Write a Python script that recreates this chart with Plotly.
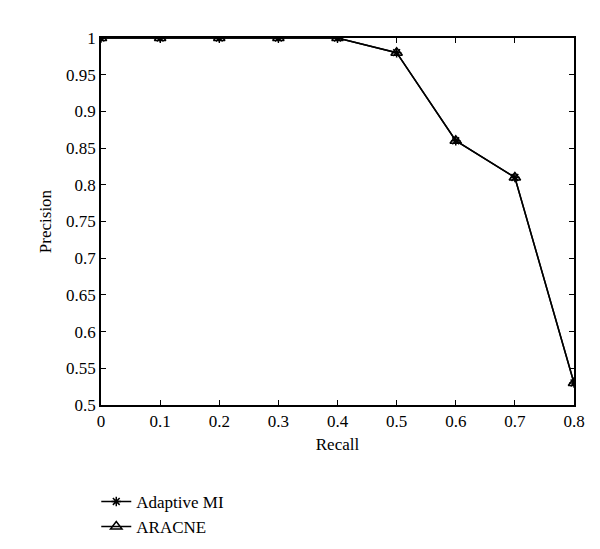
import plotly.graph_objects as go

# Precision-recall values (both methods coincide)
recall = [0, 0.1, 0.2, 0.3, 0.4, 0.5, 0.6, 0.7, 0.8]
precision_adaptive_mi = [1, 1, 1, 1, 1, 0.98, 0.86, 0.81, 0.53]
precision_aracne = [1, 1, 1, 1, 1, 0.98, 0.86, 0.81, 0.53]

x_ticks = [0, 0.1, 0.2, 0.3, 0.4, 0.5, 0.6, 0.7, 0.8]
y_ticks = [0.5, 0.55, 0.6, 0.65, 0.7, 0.75, 0.8, 0.85, 0.9, 0.95, 1]

_FONT = "Liberation Serif, Times New Roman, serif"

fig = go.Figure()
fig.add_trace(
    go.Scatter(
        x=recall,
        y=precision_adaptive_mi,
        mode="lines+markers",
        name="Adaptive MI",
        line=dict(color="black", width=1.5),
        marker=dict(symbol="asterisk-open", size=8, color="black",
                    line=dict(color="black", width=1.5)),
    )
)
fig.add_trace(
    go.Scatter(
        x=recall,
        y=precision_aracne,
        mode="lines+markers",
        name="ARACNE",
        line=dict(color="black", width=1.5),
        marker=dict(symbol="triangle-up-open", size=10, color="black",
                    line=dict(color="black", width=1.5)),
    )
)

axis_common = dict(
    showgrid=False,
    zeroline=False,
    showline=True,
    linecolor="black",
    linewidth=1.5,
    mirror="ticks",
    ticks="inside",
    ticklen=5,
    tickwidth=1.2,
    tickcolor="black",
    tickfont=dict(size=17, color="black", family=_FONT),
    title_font=dict(size=17, color="black", family=_FONT),
)

fig.update_layout(
    width=600,
    height=549,
    paper_bgcolor="white",
    plot_bgcolor="white",
    font=dict(family=_FONT, color="black", size=17),
    margin=dict(l=93, r=34, t=30, b=146),
    showlegend=True,
    legend=dict(
        x=-0.01,
        xanchor="left",
        y=-0.215,
        yanchor="top",
        bgcolor="rgba(0,0,0,0)",
        font=dict(size=17, family=_FONT, color="black"),
        tracegroupgap=0,
        itemwidth=30,
    ),
)
fig.update_xaxes(
    **axis_common,
    range=[0, 0.8],
    tickvals=x_ticks,
    ticktext=[f"{v:g}" for v in x_ticks],
    title_text="Recall",
    title_standoff=8,
)
fig.update_yaxes(
    **axis_common,
    range=[0.5, 1],
    tickvals=y_ticks,
    ticktext=[f"{v:g}" for v in y_ticks],
    title_text="Precision",
    title_standoff=10,
)

fig.write_html("out.html")
